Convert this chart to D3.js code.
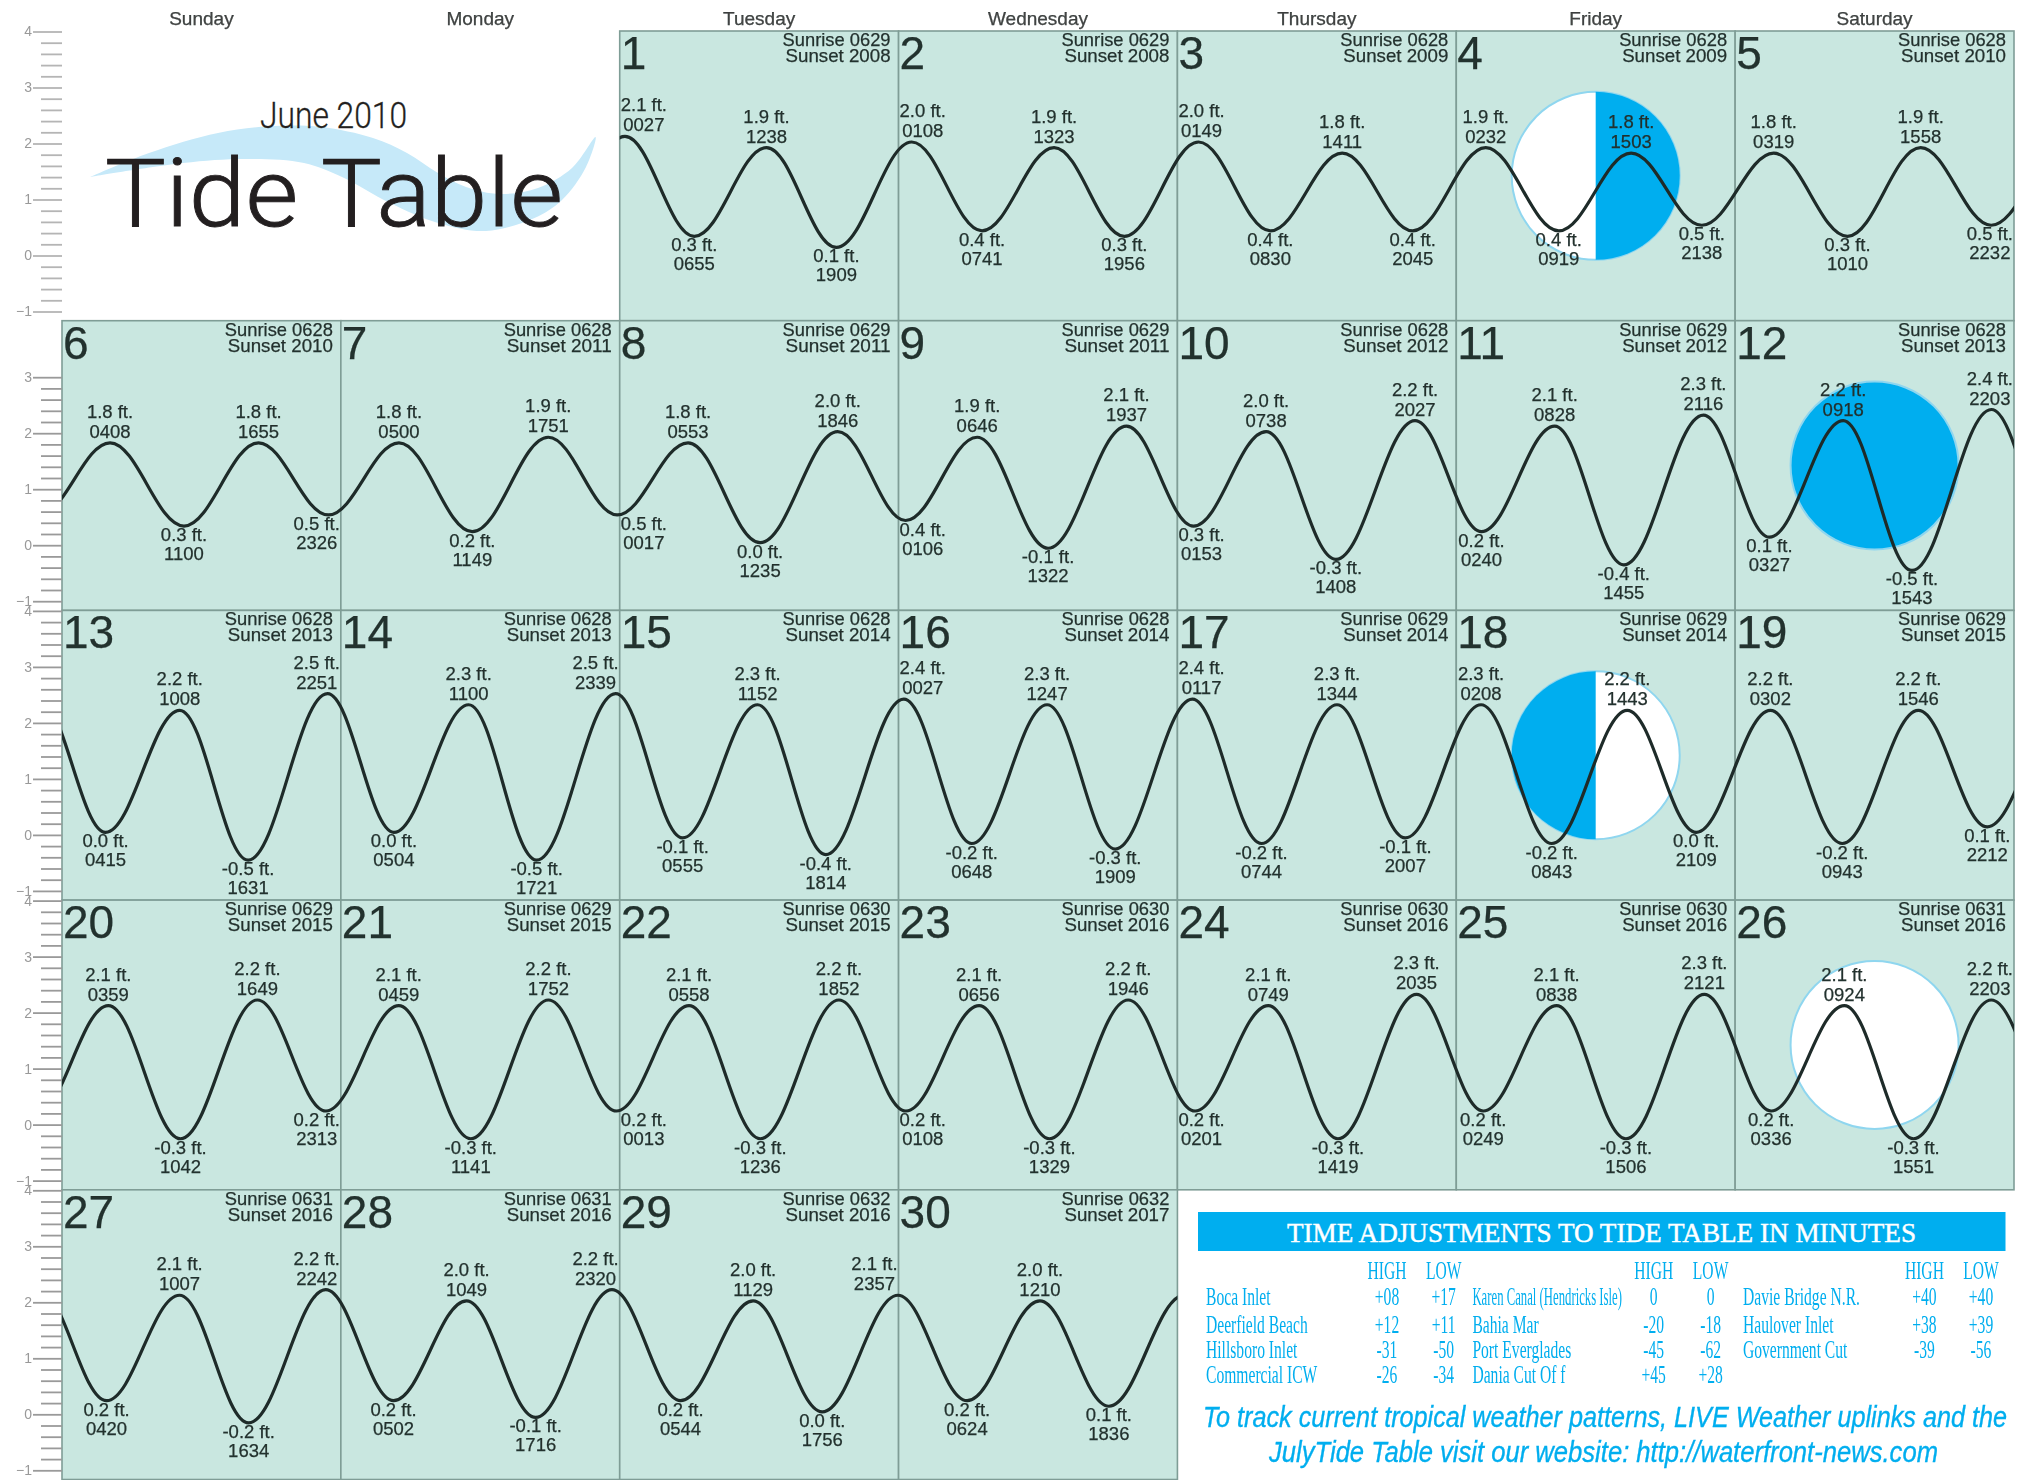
<!DOCTYPE html>
<html><head><meta charset="utf-8">
<style>html,body{margin:0;padding:0;background:#fff}svg{display:block}svg{font-family:"Liberation Sans",Arial,sans-serif}</style>
<script src="https://cdn.jsdelivr.net/npm/d3@7"></script></head>
<body><svg id="c" width="2029" height="1480"></svg>
<script>
const weekdays=["Sunday","Monday","Tuesday","Wednesday","Thursday","Friday","Saturday"];
const axisLabels=[4,3,2,1,0,-1];
const sunrise=["0629","0629","0628","0628","0628","0628","0628","0629","0629","0628","0629","0628","0628","0628","0628","0628","0629","0629","0629","0629","0629","0630","0630","0630","0630","0631","0631","0631","0632","0632"];
const sunset=["2008","2008","2009","2009","2010","2010","2011","2011","2011","2012","2012","2013","2013","2013","2014","2014","2014","2014","2015","2015","2015","2015","2016","2016","2016","2016","2016","2016","2016","2017"];
// tide extrema, one entry per labelled turn: day of June, clock time, height in feet
const tideDay=[1,1,1,1,2,2,2,2,3,3,3,3,4,4,4,4,5,5,5,5,6,6,6,6,7,7,7,8,8,8,8,9,9,9,9,10,10,10,10,11,11,11,11,12,12,12,12,13,13,13,13,14,14,14,14,15,15,15,16,16,16,16,17,17,17,17,18,18,18,18,19,19,19,19,20,20,20,20,21,21,21,22,22,22,22,23,23,23,23,24,24,24,24,25,25,25,25,26,26,26,26,27,27,27,27,28,28,28,28,29,29,29,29,30,30,30];
const tideTime=["0027","0655","1238","1909","0108","0741","1323","1956","0149","0830","1411","2045","0232","0919","1503","2138","0319","1010","1558","2232","0408","1100","1655","2326","0500","1149","1751","0017","0553","1235","1846","0106","0646","1322","1937","0153","0738","1408","2027","0240","0828","1455","2116","0327","0918","1543","2203","0415","1008","1631","2251","0504","1100","1721","2339","0555","1152","1814","0027","0648","1247","1909","0117","0744","1344","2007","0208","0843","1443","2109","0302","0943","1546","2212","0359","1042","1649","2313","0459","1141","1752","0013","0558","1236","1852","0108","0656","1329","1946","0201","0749","1419","2035","0249","0838","1506","2121","0336","0924","1551","2203","0420","1007","1634","2242","0502","1049","1716","2320","0544","1129","1756","2357","0624","1210","1836"];
const tideFeet=[2.1,0.3,1.9,0.1,2.0,0.4,1.9,0.3,2.0,0.4,1.8,0.4,1.9,0.4,1.8,0.5,1.8,0.3,1.9,0.5,1.8,0.3,1.8,0.5,1.8,0.2,1.9,0.5,1.8,0.0,2.0,0.4,1.9,-0.1,2.1,0.3,2.0,-0.3,2.2,0.2,2.1,-0.4,2.3,0.1,2.2,-0.5,2.4,0.0,2.2,-0.5,2.5,0.0,2.3,-0.5,2.5,-0.1,2.3,-0.4,2.4,-0.2,2.3,-0.3,2.4,-0.2,2.3,-0.1,2.3,-0.2,2.2,0.0,2.2,-0.2,2.2,0.1,2.1,-0.3,2.2,0.2,2.1,-0.3,2.2,0.2,2.1,-0.3,2.2,0.2,2.1,-0.3,2.2,0.2,2.1,-0.3,2.3,0.2,2.1,-0.3,2.3,0.2,2.1,-0.3,2.2,0.2,2.1,-0.2,2.2,0.2,2.0,-0.1,2.2,0.2,2.0,0.0,2.1,0.2,2.0,0.1];
// unlabelled turns just outside the month that the curve runs to at its two ends
const leadIn={day:0,time:"1830",feet:0.2}, leadOut={day:31,time:"0035",feet:2.1};
const moonDays=[4,12,18,26];
const moonPhases=["first","full","last","new"];
const adjustHeads=["HIGH","LOW"];
const adjustNames=[["Boca Inlet","Deerfield Beach","Hillsboro Inlet","Commercial ICW"],["Karen Canal (Hendricks Isle)","Bahia Mar","Port Everglades","Dania Cut Of f"],["Davie Bridge N.R.","Haulover Inlet","Government Cut"]];
const adjustHigh=[["+08","+12","-31","-26"],["0","-20","-45","+45"],["+40","+38","-39"]];
const adjustLow=[["+17","+11","-50","-34"],["0","-18","-62","+28"],["+40","+39","-56"]];
const waveOutline=[[90,177],[149,153],[218,133],[273,126],[321,127],[373,138],[407,153],[438,173],[466,187],[500,194],[538,188],[572,168],[595.5,137],[586,167],[562,200],[534.5,218],[486,231],[438,223],[390,203],[342,177],[304,163],[245,159],[183,163],[90,177]];

const INK="#22302d", BLUE="#00aeef", CELL="#c9e7e0", EDGE="#7f9d96";
const svg=d3.select("#c");
const defs=svg.append("defs");
defs.append("filter").attr("id","soft").append("feGaussianBlur").attr("stdDeviation",0.6);

const colX=d3.scaleLinear([0,7],[62,2014]);
const rowY=d3.scaleLinear([0,5],[31,1479.5]);
const colW=colX(1)-colX(0), rowH=rowY(1)-rowY(0);
const DAYM=1440, WEEKM=7*DAYM, LOWSHIFT=-30;
const y=d3.scaleLinear([4,-1],[0,277.5]);
const yAxis=d3.scaleLinear([4,-1],[0.5,280.5]);
const xWeek=d3.scaleLinear([0,WEEKM],[colX(0),colX(7)]);
const mins=t=>+t.slice(0,2)*60+ +t.slice(2);
const cellOf=d=>({col:(d+1)%7,row:Math.floor((d+1)/7)});
const absM=(d,t)=>(d+1)*DAYM+mins(t);

// line curve joining turning points with flat tangents and sine-like flanks
const K=0.3642;
function tideCurve(ctx){let x0,y0,on=false;return{
  areaStart(){},areaEnd(){},lineStart(){on=false},lineEnd(){},
  point(x,y){x=+x;y=+y;if(!on){ctx.moveTo(x,y);on=true}else{const d=x-x0;ctx.bezierCurveTo(x0+K*d,y0,x-K*d,y,x,y)}x0=x;y0=y;}
};}

// calendar cells
const cells=svg.append("g");
d3.range(1,31).forEach(d=>{const c=cellOf(d);
  cells.append("rect").attr("x",colX(c.col)).attr("y",rowY(c.row)).attr("width",colW).attr("height",rowH)
    .attr("fill",CELL).attr("stroke",EDGE).attr("stroke-width",1.6);
});

// left axes; the second row's axis starts at 3 in the reference
const axes=svg.append("g").attr("filter","url(#soft)");
const minor=d3.range(-10,41,2).map(v=>v/10).filter(v=>!axisLabels.includes(v));
d3.range(5).forEach(r=>{
  const cap=r==1?3:4;
  const g=axes.append("g").attr("transform",`translate(${colX(0)},${rowY(r)})`);
  const a=g.append("g").call(d3.axisLeft(yAxis).tickValues(minor.filter(v=>v<=cap)).tickSize(21).tickFormat(""));
  const b=g.append("g").call(d3.axisLeft(yAxis).tickValues(axisLabels.filter(v=>v<=cap)).tickSize(29).tickPadding(1).tickFormat(d3.format("d")));
  [a,b].forEach(s=>{s.select(".domain").remove();s.selectAll("line").attr("stroke",r==0?"#b5b5b5":"#9a9a9a").attr("stroke-width",1.8);
    s.selectAll("text").attr("fill","#999").style("font-size","14px").style("font-family","Liberation Sans");});
});

// title block
svg.append("path").attr("d",d3.line().curve(d3.curveCatmullRom.alpha(0.5))(waveOutline)).attr("fill","#c6e9f9");
svg.append("text").attr("x",260).attr("y",128).style("font-family","Roboto").style("font-weight",300).style("font-size","36px").attr("textLength",147).attr("lengthAdjust","spacingAndGlyphs").attr("fill","#231f20").attr("stroke","#231f20").attr("stroke-width",.3).text("June 2010");
svg.append("text").attr("x",105).attr("y",226).style("font-family","Roboto").style("font-weight",300).style("font-size","95px").attr("textLength",458).attr("lengthAdjust","spacingAndGlyphs").attr("fill","#231f20").attr("stroke","#231f20").attr("stroke-width",.9).text("Tide Table");

// moons
const moons=svg.append("g");
const half=(x,cy,r,side,fill)=>moons.append("path").attr("d",d3.arc()({innerRadius:0,outerRadius:r,startAngle:side<0?-Math.PI:0,endAngle:side<0?0:Math.PI})).attr("transform",`translate(${x},${cy})`).attr("fill",fill);
moonDays.forEach((d,i)=>{const c=cellOf(d),cx=colX(c.col+.5),cy=rowY(c.row+.5),r=84,p=moonPhases[i];
  moons.append("circle").attr("cx",cx).attr("cy",cy).attr("r",r).attr("fill",p=="full"?BLUE:"#fff").attr("stroke","#8fd6ef").attr("stroke-width",2);
  if(p=="first")half(cx,cy,r,1,BLUE);
  if(p=="last")half(cx,cy,r,-1,BLUE);
});

// tide curve
const turns=tideDay.map((d,i)=>({day:d,time:tideTime[i],feet:tideFeet[i],m:absM(d,tideTime[i])}));
const all=[{...leadIn,m:absM(leadIn.day,leadIn.time)},...turns,{...leadOut,m:absM(leadOut.day,leadOut.time)}];
all.forEach((t,i)=>{const prev=all[i-1]||all[i+1], isLow=t.feet<prev.feet; t.low=isLow; t.pm=t.m+(isLow?LOWSHIFT:0);});
const curves=svg.append("g");
d3.range(5).forEach(r=>{
  const left=colX(r==0?2:0), right=colX(r==4?4:7);
  defs.append("clipPath").attr("id","row"+r).append("rect").attr("x",left).attr("y",rowY(r)).attr("width",right-left).attr("height",rowH);
  const line=d3.line().x(t=>xWeek(t.pm-r*WEEKM)).y(t=>rowY(r)+y(t.feet)).curve(tideCurve);
  curves.append("path").attr("d",line(all)).attr("fill","none").attr("stroke","#1e2b29").attr("stroke-width",3.2).attr("clip-path",`url(#row${r})`);
});

// text on the calendar
const ink=svg.append("g").attr("filter","url(#soft)").attr("fill",INK).attr("stroke",INK).attr("stroke-width",.25);
weekdays.forEach((w,i)=>ink.append("text").attr("x",colX(i+.5)).attr("y",25).attr("text-anchor","middle").style("font-size","19px").attr("fill","#444").text(w));
d3.range(1,31).forEach(d=>{const c=cellOf(d),L=colX(c.col),T=rowY(c.row);
  ink.append("text").attr("x",L+1).attr("y",T+38).style("font-size","46px").text(d);
  ink.append("text").attr("x",L+colW-116).attr("y",T+15).style("font-size","19px").attr("textLength",108).attr("lengthAdjust","spacingAndGlyphs").text("Sunrise "+sunrise[d-1]);
  ink.append("text").attr("x",L+colW-113).attr("y",T+31).style("font-size","19px").attr("textLength",105).attr("lengthAdjust","spacingAndGlyphs").text("Sunset "+sunset[d-1]);
});
all.slice(1,-1).forEach(t=>{
  const c=cellOf(t.day),L=colX(c.col),R=L+colW,T=rowY(c.row);
  const px=xWeek(t.pm-c.row*WEEKM), py=T+y(t.feet);
  const lines=[t.feet.toFixed(1)+" ft.",t.time];
  const ys=t.low?[py+15,py+34]:[py-25,py-5];
  const g=ink.append("g");
  const nodes=lines.map((s,i)=>g.append("text").attr("y",ys[i]).attr("text-anchor","middle").style("font-size","18.5px").text(s));
  const w=d3.max(nodes,n=>n.node().getComputedTextLength());
  const cx=Math.max(L+w/2+1,Math.min(R-w/2-1,px));
  nodes.forEach(n=>n.attr("x",cx));
});

// adjustments panel
const panel=svg.append("g");
panel.append("rect").attr("x",1198).attr("y",1212).attr("width",807.5).attr("height",39).attr("fill",BLUE);
panel.append("text").attr("x",1287).attr("y",1242).style("font-size","27px").style("font-family","Liberation Serif").attr("fill","#fff").attr("stroke","#fff").attr("stroke-width",.45).attr("textLength",629).attr("lengthAdjust","spacingAndGlyphs").text("TIME ADJUSTMENTS TO TIDE TABLE IN MINUTES");
const nameX=[1206,1472.4,1743], highX=[1387,1653.7,1924.4], lowX=[1443.7,1710.6,1981], rowBase=[1305,1333,1358,1383];
const cond=(x,yy,s,anchor,k)=>panel.append("text").attr("transform",`translate(${x},${yy}) scale(${k||.6},1)`).attr("text-anchor",anchor).style("font-family","Liberation Serif").style("font-size","26px").attr("fill",BLUE).text(s);
adjustNames.forEach((col,k)=>{
  cond(highX[k],1279,adjustHeads[0],"middle");cond(lowX[k],1279,adjustHeads[1],"middle");
  col.forEach((n,i)=>{cond(nameX[k],rowBase[i],n,"start",n.length>20?.49:.6);cond(highX[k],rowBase[i],adjustHigh[k][i],"middle");cond(lowX[k],rowBase[i],adjustLow[k][i],"middle");});
});
panel.append("text").attr("x",1203).attr("y",1427).style("font-size","30px").style("font-style","italic").attr("fill",BLUE).attr("stroke",BLUE).attr("stroke-width",.35).attr("textLength",804).attr("lengthAdjust","spacingAndGlyphs").text("To track current tropical weather patterns, LIVE Weather uplinks and the");
panel.append("text").attr("x",1269).attr("y",1462).style("font-size","30px").style("font-style","italic").attr("fill",BLUE).attr("stroke",BLUE).attr("stroke-width",.35).attr("textLength",669).attr("lengthAdjust","spacingAndGlyphs").text("JulyTide Table visit our website: http://waterfront-news.com");
</script></body></html>
